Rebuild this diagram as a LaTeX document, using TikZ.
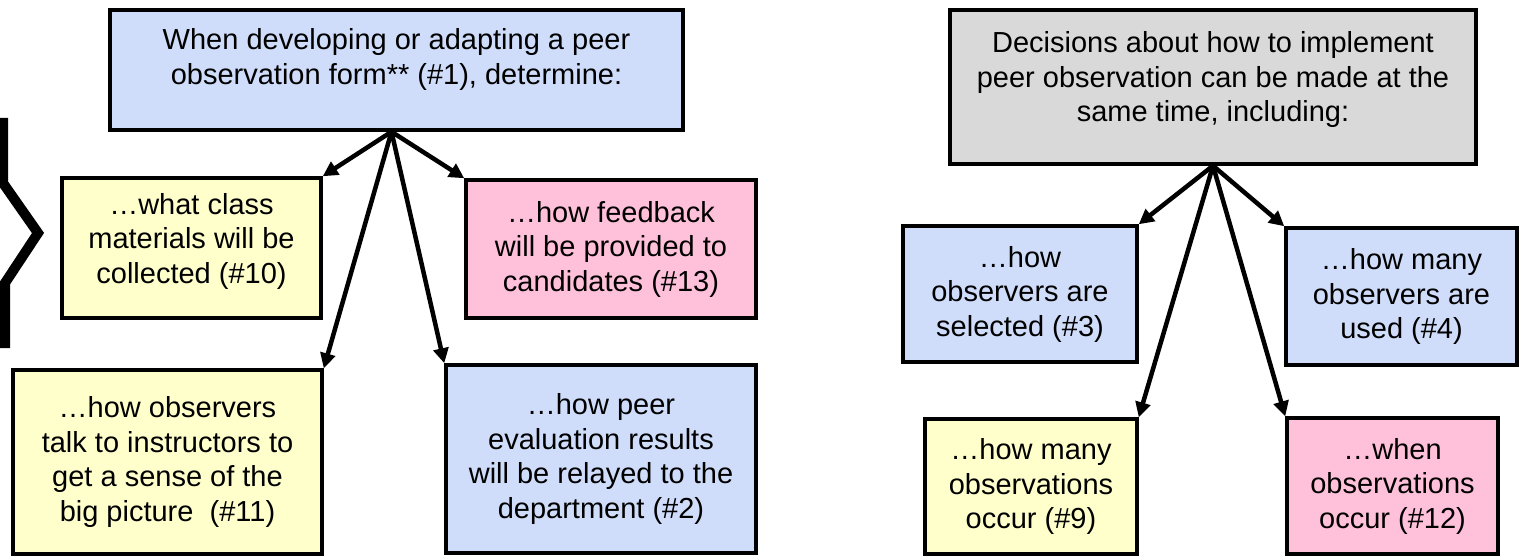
\documentclass[tikz,border=0pt]{standalone}
\usepackage{fontspec}
\setmainfont{Liberation Sans}
\usetikzlibrary{arrows.meta}
\definecolor{boxblue}{RGB}{207,221,250}
\definecolor{boxpink}{RGB}{255,192,218}
\definecolor{boxyellow}{RGB}{255,255,204}
\definecolor{boxgray}{RGB}{217,217,217}

\begin{document}
\begin{tikzpicture}[x=1pt, y=1pt,
	box/.style={draw=black, line width=3.5pt, align=center, inner sep=0pt, font=\fontsize{29}{34.5}\selectfont},
	arr/.style={line width=4.5pt, -{Triangle[length=15pt, width=15pt]}}]
\useasboundingbox (0,0) rectangle (1521,558);

%cut-off bracket on the left
\draw[line width=10pt, miter limit=4] (3,440) -- (3,375) -- (38,325) -- (5,275) -- (5,210);

%left tree
\node[box, fill=boxblue, minimum width=573, minimum height=120, text depth=27pt] (form) at (396.5,488)
	{When developing or adapting a peer\\observation form** (\#1), determine:};
\node[box, fill=boxyellow, minimum width=259, minimum height=140, text depth=20pt] (materials) at (191.5,310)
	{…what class\\materials will be\\collected (\#10)};
\node[box, fill=boxpink, minimum width=290, minimum height=138] (feedback) at (611,309)
	{…how feedback\\will be provided to\\candidates (\#13)};
\node[box, fill=boxyellow, minimum width=309, minimum height=184] (talk) at (167.5,96)
	{…how observers\\talk to instructors to\\get a sense of the\\big picture~ (\#11)};
\node[box, fill=boxblue, minimum width=310, minimum height=188] (relay) at (601,99)
	{…how peer\\evaluation results\\will be relayed to the\\department (\#2)};

\draw[arr] ([xshift=-5pt]form.south) -- (materials.north east);
\draw[arr] ([xshift=-5pt]form.south) -- (feedback.north west);
\draw[arr] ([xshift=-5pt]form.south) -- (talk.north east);
\draw[arr] ([xshift=-5pt]form.south) -- (relay.north west);

%right tree
\node[box, fill=boxgray, minimum width=526, minimum height=154, text depth=21pt] (decide) at (1213,471)
	{Decisions about how to implement\\peer observation can be made at the\\same time, including:};
\node[box, fill=boxblue, minimum width=234, minimum height=136] (select) at (1020,264)
	{…how\\observers are\\selected (\#3)};
\node[box, fill=boxblue, minimum width=231, minimum height=137] (many) at (1401.5,261.5)
	{…how many\\observers are\\used (\#4)};
\node[box, fill=boxyellow, minimum width=212, minimum height=135] (count) at (1031,71.5)
	{…how many\\observations\\occur (\#9)};
\node[box, fill=boxpink, minimum width=211, minimum height=136] (when) at (1392.5,72)
	{…when\\observations\\occur (\#12)};

\draw[arr] (decide.south) -- (select.north east);
\draw[arr] (decide.south) -- (many.north west);
\draw[arr] (decide.south) -- (count.north east);
\draw[arr] (decide.south) -- (when.north west);
\end{tikzpicture}
\end{document}
